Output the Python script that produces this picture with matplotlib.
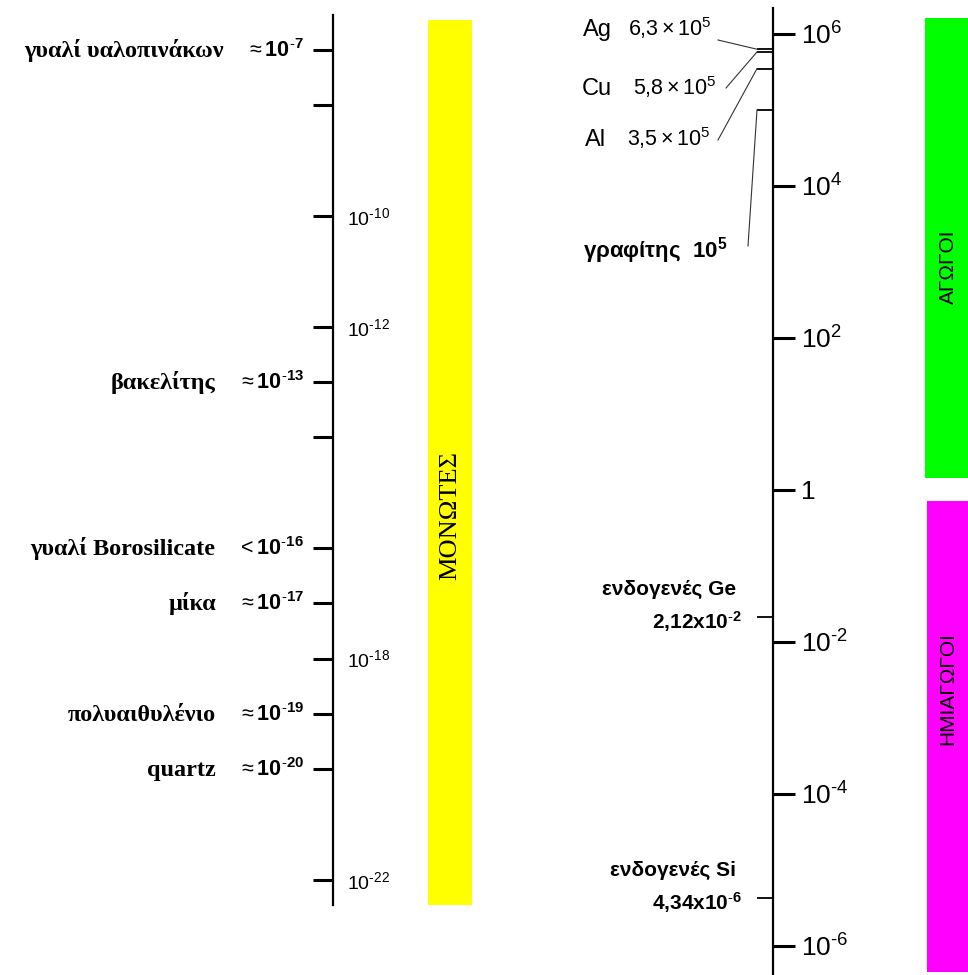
import matplotlib.pyplot as plt
from matplotlib.ticker import FixedLocator, FixedFormatter, NullLocator

plt.rcParams['font.family'] = ['Liberation Sans', 'DejaVu Sans']
plt.rcParams['mathtext.fontset'] = 'custom'
plt.rcParams['mathtext.rm'] = 'Liberation Sans'
plt.rcParams['mathtext.bf'] = 'Liberation Sans:bold'
plt.rcParams['mathtext.it'] = 'Liberation Sans:italic'
plt.rcParams['mathtext.default'] = 'rm'

# --- insulators, left scale (S/m) ---
insulator_names = ['γυαλί υαλοπινάκων', 'βακελίτης', 'γυαλί Borosilicate',
                   'μίκα', 'πολυαιθυλένιο', 'quartz']
insulator_signs = [r'\approx', r'\approx', '<', r'\approx', r'\approx', r'\approx']
insulator_exps = [-7, -13, -16, -17, -19, -20]
left_tick_exps = [-7, -8, -10, -12, -13, -14, -16, -17, -18, -19, -20, -22]
left_labeled_exps = [-10, -12, -18, -22]

# --- conductors and semiconductors, right scale (S/m) ---
metal_names = ['Ag', 'Cu', 'Al']
metal_mantissas = ['6{,}3', '5{,}8', '3{,}5']
metal_values = [6.3e5, 5.8e5, 3.5e5]
graphite_name = 'γραφίτης'
graphite_value = 1e5
semi_names = ['ενδογενές Ge', 'ενδογενές Si']
semi_mantissas = ['2{,}12', '4{,}34']
semi_exps = [-2, -6]
semi_values = [2.12e-2, 4.34e-6]
right_tick_exps = [6, 4, 2, 0, -2, -4, -6]

# --- class bands (log10 limits) ---
band_names = ['ΜΟΝΩΤΕΣ', 'ΑΓΩΓΟΙ', 'ΗΜΙΑΓΩΓΟΙ']
band_colors = ['#ffff00', '#00ff00', '#ff00ff']
band_limits = [(-22.45, -6.46), (0.16, 6.21), (-6.34, -0.15)]

W, H = 968, 975
# log10 at the top edge and pixels per decade for each scale
TOP1, DEC1 = -6.096, 55.33
TOP2, DEC2 = 6.447, 76.0


def py1(y):
    return 10 ** (TOP1 - y / DEC1)


def py2(y):
    return 10 ** (TOP2 - y / DEC2)


def sup(e, bold=False):
    # short hyphen for the minus, as in the printed scale
    s = str(e).replace('-', r'\text{-}')
    if bold:
        return f'\\mathbf{{10}}^{{\\mathbf{{{s}}}}}'
    return f'10^{{{s}}}'


fig = plt.figure(figsize=(W / 100, H / 100), dpi=100)
ax1 = fig.add_axes([0, 0, 1, 1])
ax2 = fig.add_axes([0, 0, 1, 1])
ax2.patch.set_visible(False)

for ax, top, dec in [(ax1, TOP1, DEC1), (ax2, TOP2, DEC2)]:
    ax.set_xlim(0, W)
    ax.set_yscale('log')
    ax.set_ylim(10 ** (top - H / dec), 10 ** top)
    for s in ax.spines.values():
        s.set_visible(False)
    ax.xaxis.set_visible(False)
    ax.yaxis.set_minor_locator(NullLocator())
    ax.yaxis.set_ticks_position('right')

# bands
lo, hi = band_limits[0]
ax1.fill_between([428, 472], 10 ** lo, 10 ** hi, color=band_colors[0], lw=0)
lo, hi = band_limits[1]
ax2.fill_between([925, W], 10 ** lo, 10 ** hi, color=band_colors[1], lw=0)
lo, hi = band_limits[2]
ax2.fill_between([927, W], 10 ** lo, 10 ** hi, color=band_colors[2], lw=0)

fig.text(450 / W, 1 - 515 / H, band_names[0], rotation=90, ha='center', va='center',
         family='Liberation Serif', fontsize=19)
fig.text(948 / W, 1 - 267 / H, band_names[1], rotation=90, ha='center', va='center',
         fontsize=15)
fig.text(948 / W, 1 - 689 / H, band_names[2], rotation=90, ha='center', va='center',
         fontsize=15)

# left axis
sp = ax1.spines['right']
sp.set_visible(True)
sp.set_position(('data', 333))
sp.set_linewidth(1.6)
sp.set_bounds(py1(905), py1(15))
ax1.yaxis.set_major_locator(FixedLocator([10.0 ** e for e in left_tick_exps]))
ax1.yaxis.set_major_formatter(FixedFormatter(
    [f'${sup(e)}$' if e in left_labeled_exps else '' for e in left_tick_exps]))
ax1.tick_params(axis='y', direction='in', length=14.4, width=2.2, pad=10,
                labelsize=14, left=False, right=True, labelleft=False, labelright=True)

for name, sign, e in zip(insulator_names, insulator_signs, insulator_exps):
    val = ax1.annotate(f'${sign}{sup(e, bold=True)}$', xy=(304, 10.0 ** e),
                       xytext=(0, -7), textcoords='offset pixels',
                       ha='right', va='baseline', fontsize=15.5)
    ax1.annotate(name, xy=(0, 10.0 ** e), xycoords=(val, 'data'),
                 xytext=(-22, -7), textcoords='offset pixels',
                 ha='right', va='baseline', weight='bold', fontsize=17.5,
                 family=['Liberation Serif', 'DejaVu Serif'])

# right axis
sp = ax2.spines['right']
sp.set_visible(True)
sp.set_position(('data', 773))
sp.set_linewidth(1.6)
sp.set_bounds(10 ** (TOP2 - H / DEC2), py2(8))
ax2.yaxis.set_major_locator(FixedLocator([10.0 ** e for e in right_tick_exps]))
ax2.yaxis.set_major_formatter(FixedFormatter(
    ['1' if e == 0 else f'${sup(e)}$' for e in right_tick_exps]))
ax2.tick_params(axis='y', direction='out', length=16, width=2.2, pad=4,
                labelsize=19, left=False, right=True, labelleft=False, labelright=True)

# short marks for the materials
marks = metal_values + [graphite_value] + semi_values
ax2.hlines(marks, 757, 773, color='black', lw=1.3)

metal_name_x = [583, 582, 585]
metal_value_x = [628, 633, 627]
metal_base_y = [36, 95, 146]
leader_start = [(718, 40), (726, 88), (718, 140)]
for name, mant, val, nx, vx, by, (lx, ly) in zip(
        metal_names, metal_mantissas, metal_values, metal_name_x,
        metal_value_x, metal_base_y, leader_start):
    ax2.text(nx, py2(by), name, ha='left', va='baseline', fontsize=17)
    ax2.text(vx, py2(by), f'${mant}\\times10^{{5}}$', ha='left', va='baseline',
             fontsize=15.5)
    ax2.plot([lx, 757], [py2(ly), val], color='#333333', lw=0.8)

ax2.text(583, py2(257), f'{graphite_name}  ${sup(5, bold=True)}$',
         ha='left', va='baseline', weight='bold', fontsize=16)
ax2.plot([748, 757], [py2(246), graphite_value], color='#333333', lw=0.8)

for name, mant, e, val in zip(semi_names, semi_mantissas, semi_exps, semi_values):
    ax2.annotate(name, xy=(736, val), xytext=(0, 22), textcoords='offset pixels',
                 ha='right', va='baseline', weight='bold', fontsize=15)
    ax2.annotate(f'$\\mathbf{{{mant}x}}{sup(e, bold=True)}$', xy=(742, val),
                 xytext=(0, -12), textcoords='offset pixels',
                 ha='right', va='baseline', fontsize=15)

fig.savefig('out.png', dpi=100, facecolor='white')
